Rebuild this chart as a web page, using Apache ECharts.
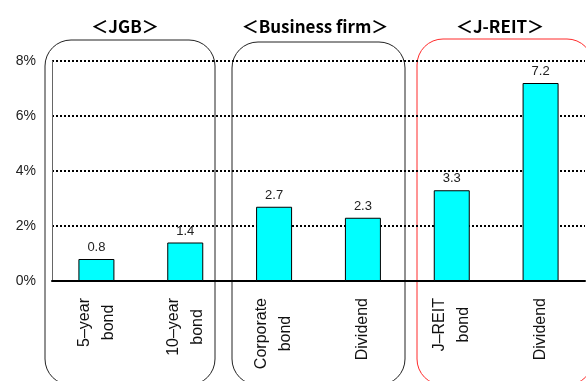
<!DOCTYPE html>
<html>
<head>
<meta charset="utf-8">
<script src="https://cdn.jsdelivr.net/npm/echarts@6/dist/echarts.min.js"></script>
<style>
  html, body { margin: 0; padding: 0; background: #fff; }
  #chart { width: 586px; height: 381px; }
</style>
</head>
<body>
<div id="chart"></div>
<script>
// values (%)
const categories = ['5–year\nbond', '10–year\nbond', 'Corporate\nbond', 'Dividend', 'J–REIT\nbond', 'Dividend'];
const yields = [0.8, 1.4, 2.7, 2.3, 3.3, 7.2];
const groupTitles = ['＜JGB＞', '＜Business firm＞', '＜J-REIT＞'];
const yTicks = [0, 2, 4, 6, 8];

window.addEventListener('load', function () {
    let chart = echarts.init(document.getElementById('chart'));
    let font = '"Liberation Sans", "Noto Sans CJK JP", sans-serif';

    // rounded boxes around each group + the titles above them
    let boxes = [
        { x: 45, y: 40, w: 170, h: 345, color: '#222' },
        { x: 232, y: 42, w: 173, h: 343, color: '#222' },
        { x: 417, y: 39, w: 176, h: 346, color: '#ff2a2a' }
    ];
    let titleX = [125, 315, 500];
    let graphics = [];
    boxes.forEach(function (b) {
        graphics.push({
            type: 'rect', z: 0, silent: true,
            shape: { x: b.x, y: b.y, width: b.w, height: b.h, r: 26 },
            style: { fill: 'none', stroke: b.color, lineWidth: 1 }
        });
    });
    groupTitles.forEach(function (t, i) {
        graphics.push({
            type: 'text', z: 5, silent: true,
            x: titleX[i], y: 27,
            style: {
                text: t, fill: '#000', font: 'bold 17px "Noto Sans CJK JP", sans-serif',
                textAlign: 'center', textVerticalAlign: 'middle'
            }
        });
    });

    let option = {
        animation: false,
        backgroundColor: '#fff',
        grid: { left: 52, right: 1, top: 61, bottom: 100 },
        graphic: graphics,
        xAxis: {
            type: 'category',
            data: categories,
            axisLine: { lineStyle: { color: '#000', width: 2 } },
            axisTick: { inside: true, length: 5, lineStyle: { color: '#888' } },
            axisLabel: {
                interval: 0,
                rotate: 90,
                margin: 17,
                color: '#111',
                fontSize: 16,
                fontFamily: font,
                formatter: function (v) {
                    return v.split('\n').map(s => '{c|' + s + '}').join('\n');
                },
                rich: {
                    c: { align: 'center', fontSize: 16, lineHeight: 24, fontFamily: font, color: '#111' }
                }
            }
        },
        yAxis: {
            type: 'value',
            min: yTicks[0],
            max: yTicks[yTicks.length - 1],
            interval: 2,
            axisLine: { show: true, lineStyle: { color: '#666', width: 1 } },
            axisTick: { show: false },
            axisLabel: {
                formatter: '{value}%',
                margin: 16,
                color: '#222',
                fontSize: 14,
                fontFamily: font
            },
            splitLine: { lineStyle: { color: '#000', type: [2, 2], width: 2 } }
        },
        series: [
            {
                type: 'bar',
                data: yields,
                barWidth: 36,
                itemStyle: { color: '#00ffff', borderColor: '#000', borderWidth: 1 },
                label: {
                    show: true,
                    position: 'top',
                    distance: 5,
                    color: '#222',
                    fontSize: 13,
                    fontFamily: font,
                    formatter: function (p) { return p.value.toFixed(1); }
                }
            }
        ]
    };

    chart.setOption(option);
});
</script>
</body>
</html>
